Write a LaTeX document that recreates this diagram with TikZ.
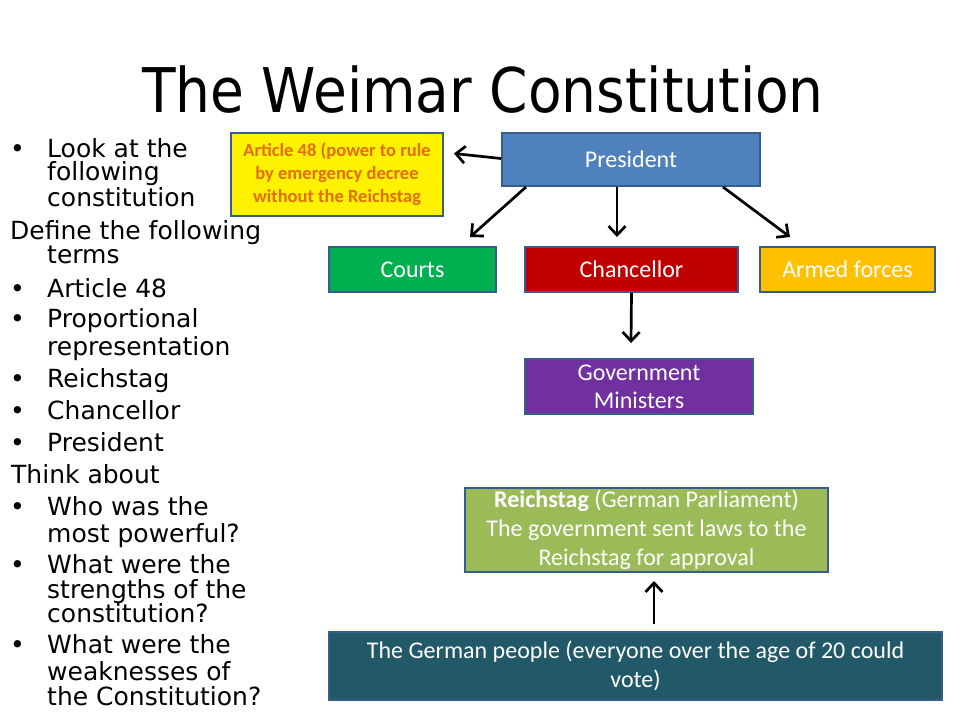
\documentclass[tikz,border=0pt]{standalone}
\usepackage{fontspec}
\setmainfont{Carlito}
\newfontfamily\comicf{DejaVu Sans}
\usetikzlibrary{arrows.meta,calc}
\definecolor{bordc}{HTML}{385D8A}
\definecolor{presc}{HTML}{4F81BD}
\definecolor{courtc}{HTML}{00B050}
\definecolor{chanc}{HTML}{C00000}
\definecolor{armc}{HTML}{FFC000}
\definecolor{govc}{HTML}{7030A0}
\definecolor{reichc}{HTML}{9BBB59}
\definecolor{peoplec}{HTML}{215968}
\definecolor{artc}{HTML}{E46C0A}
\begin{document}
\begin{tikzpicture}[x=1pt,y=-1pt,
  box/.style={draw=bordc, line width=2pt, inner sep=0pt, align=center, text=white, font=\fontsize{24}{29}\selectfont},
  arr/.style={line width=2.7pt, -{Straight Barb[length=9pt,width=17pt]}},
  lt/.style={anchor=base west, font=\comicf\fontsize{25}{25}\selectfont, inner sep=0pt},
]
\useasboundingbox[fill=white] (0,0) rectangle (960,720);
% title
\node[anchor=base, inner sep=0pt, font=\comicf\fontsize{55}{60}\selectfont, yscale=1.12] (title) at (483,112) {The Weimar Constitution};
% left text
\node[lt] (b1) at (10,157) {\textbullet};
\node[lt] (l1) at (47,157) {Look at the};
\node[lt] (l2) at (47,180) {following};
\node[lt] (l3) at (47,206) {constitution};
\node[lt] (l4) at (10,239) {Define the following};
\node[lt] (l5) at (47,263) {terms};
\node[lt] (b2) at (10,297) {\textbullet};
\node[lt] (l6) at (47,297) {Article 48};
\node[lt] (b3) at (10,327) {\textbullet};
\node[lt] (l7) at (47,327) {Proportional};
\node[lt] (l8) at (47,355) {representation};
\node[lt] (b4) at (10,387) {\textbullet};
\node[lt] (l9) at (47,387) {Reichstag};
\node[lt] (b5) at (10,419) {\textbullet};
\node[lt] (l10) at (47,419) {Chancellor};
\node[lt] (b6) at (10,451) {\textbullet};
\node[lt] (l11) at (47,451) {President};
\node[lt] (l12) at (11,483) {Think about};
\node[lt] (b7) at (10,515) {\textbullet};
\node[lt] (l13) at (47,515) {Who was the};
\node[lt] (l14) at (47,542) {most powerful?};
\node[lt] (b8) at (10,573) {\textbullet};
\node[lt] (l15) at (47,573) {What were the};
\node[lt] (l16) at (47,598) {strengths of the};
\node[lt] (l17) at (47,622) {constitution?};
\node[lt] (b9) at (10,653) {\textbullet};
\node[lt] (l18) at (47,653) {What were the};
\node[lt] (l19) at (47,680) {weaknesses of};
\node[lt] (l20) at (47,705) {the Constitution?};
% boxes
\node[box, fill=yellow, text=artc, minimum width=212pt, minimum height=83pt, font=\bfseries\fontsize{18.5}{23}\selectfont] (art) at (337,174.5) {Article 48 (power to rule\\by emergency decree\\without the Reichstag};
\node[box, fill=presc, minimum width=258pt, minimum height=53pt] (pres) at (631,159.5) {President};
\node[box, fill=courtc, minimum width=167pt, minimum height=45pt] (courts) at (412.5,269.5) {Courts};
\node[box, fill=chanc, minimum width=213pt, minimum height=45pt] (chan) at (631.5,269.5) {Chancellor};
\node[box, fill=armc, minimum width=175pt, minimum height=45pt] (armed) at (847.5,269.5) {Armed forces};
\node[box, fill=govc, minimum width=228pt, minimum height=55pt, font=\fontsize{24}{28}\selectfont] (gov) at (639,386.5) {Government\\Ministers};
\node[box, fill=reichc, minimum width=363pt, minimum height=84pt] (reich) at (646.5,530) {\textbf{Reichstag} (German Parliament)\\The government sent laws to the\\Reichstag for approval};
\node[box, fill=peoplec, minimum width=613pt, minimum height=68pt] (people) at (635.5,666) {The German people (everyone over the age of 20 could\\vote)};
% arrows
\draw[arr] ([yshift=1pt]pres.west) -- ([xshift=10pt,yshift=21pt]art.east);
\draw[arr] ([xshift=25pt]pres.south west) -- ([xshift=57.5pt,yshift=9pt]courts.north);
\draw[arr] ([xshift=-14pt]pres.south) -- ([xshift=-14.5pt,yshift=9pt]chan.north);
\draw[arr] ([xshift=-38pt]pres.south east) -- ([xshift=-57.5pt,yshift=9pt]armed.north);
\draw[arr] (chan.south) -- ([xshift=-8pt,yshift=15pt]gov.north);
\draw[arr] ([xshift=18.5pt,yshift=7pt]people.north) -- ([xshift=7.5pt,yshift=-8pt]reich.south);
\end{tikzpicture}
\end{document}
